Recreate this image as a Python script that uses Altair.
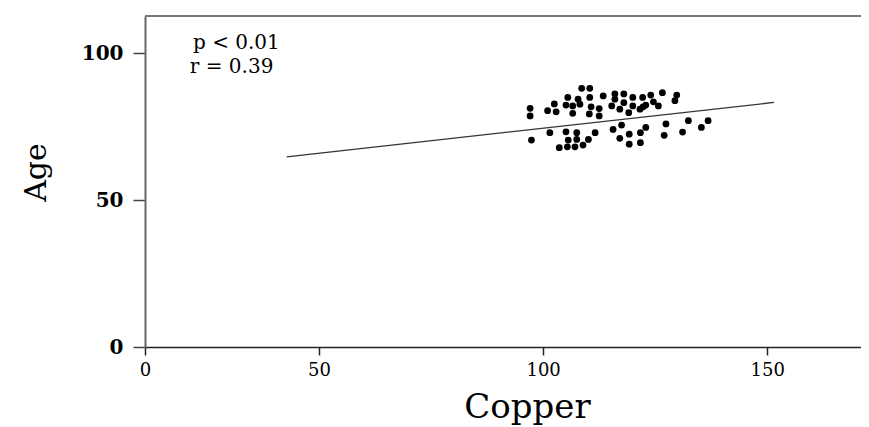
import altair as alt
import pandas as pd

# ---- data ----
copper = [108.6, 110.4, 105.5, 107.8, 110.4, 113.4, 116.0, 118.0, 120.0, 122.2,
          124.0, 126.6, 129.8, 102.5, 105.1, 106.6, 108.2, 110.7, 112.5, 115.3,
          116.0, 118.0, 120.0, 122.3, 122.9, 124.6, 125.7, 129.4, 97.1, 101.0,
          102.9, 106.6, 110.3, 112.5, 117.1, 119.1, 121.6, 97.1, 97.4, 101.5,
          105.1, 107.5, 111.6, 115.6, 117.5, 119.2, 121.7, 122.9, 127.4, 132.4,
          136.8, 135.3, 131.1, 127.0, 117.1, 119.2, 121.7, 105.6, 107.5, 110.1,
          103.6, 105.4, 107.1, 108.9]
age = [88.0, 88.0, 84.9, 84.3, 84.9, 85.4, 86.1, 86.1, 84.9, 84.9,
       85.7, 86.5, 85.7, 82.7, 82.3, 82.0, 82.6, 81.7, 81.1, 82.0,
       84.3, 83.1, 82.0, 81.7, 82.3, 83.4, 82.0, 83.8, 81.2, 80.4,
       80.0, 79.5, 79.3, 78.6, 80.9, 79.7, 80.9, 78.6, 70.4, 72.9,
       73.2, 72.9, 72.9, 74.0, 75.5, 72.4, 72.9, 74.7, 75.9, 77.0,
       77.0, 74.7, 73.1, 72.0, 71.0, 69.0, 69.5, 70.4, 70.6, 70.6,
       67.8, 68.1, 68.1, 68.7]

fit_copper = [42.8, 151.5]
fit_age = [64.7, 83.2]

ann_text = ["p < 0.01", "r = 0.39"]
ann_copper = [21.9, 21.2]
ann_age = [103.3, 95.3]

x_ticks = [11.2, 50, 100, 150]
y_ticks = [0, 50, 100]

X_DOMAIN = [11.2, 170.9]
Y_DOMAIN = [0, 112.6]

W, H = 716, 331

pts = pd.DataFrame({"Copper": copper, "Age": age})
fit = pd.DataFrame({"Copper": fit_copper, "Age": fit_age})
ann = pd.DataFrame({"Copper": ann_copper, "Age": ann_age, "t": ann_text})

xscale = alt.Scale(domain=X_DOMAIN, nice=False, zero=False)
yscale = alt.Scale(domain=Y_DOMAIN, nice=False)

xaxis = alt.Axis(
    values=x_ticks, labelExpr="datum.value < 20 ? '0' : datum.label",
    title="Copper", grid=False, labelFlush=False,
    domainColor="#222", domainWidth=1.5, tickColor="#222", tickWidth=1.5, tickSize=8,
    labelFont="DejaVu Serif", labelFontSize=18, labelColor="black", labelPadding=6,
    titleFont="DejaVu Serif", titleFontSize=34, titleFontWeight="normal", titleColor="black",
    titleX=382, titleY=70, titleBaseline="alphabetic", titleAlign="center",
)
yaxis = alt.Axis(
    values=y_ticks, title="Age", grid=False, labelFlush=False,
    domainColor="#666", domainWidth=2, tickColor="#444", tickWidth=1.5, tickSize=12,
    labelFont="DejaVu Serif", labelFontSize=20, labelFontWeight="bold", labelColor="black",
    labelPadding=10,
    titleFont="DejaVu Serif", titleFontSize=30, titleFontWeight="normal", titleColor="black",
    titleX=-109, titleY=156, titleAngle=270, titleAlign="center", titleBaseline="middle",
)

points = alt.Chart(pts).mark_circle(size=46, color="black", opacity=1).encode(
    x=alt.X("Copper:Q", scale=xscale, axis=xaxis),
    y=alt.Y("Age:Q", scale=yscale, axis=yaxis),
)
line = alt.Chart(fit).mark_line(color="#333", strokeWidth=1.3).encode(
    x=alt.X("Copper:Q", scale=xscale),
    y=alt.Y("Age:Q", scale=yscale),
)
text = alt.Chart(ann).mark_text(
    align="left", baseline="middle", font="DejaVu Serif", fontSize=20, color="black"
).encode(
    x=alt.X("Copper:Q", scale=xscale),
    y=alt.Y("Age:Q", scale=yscale),
    text="t:N",
)
top = alt.Chart(pd.DataFrame({"a": [0]})).mark_rule(color="#777", strokeWidth=2).encode(
    x=alt.value(0), x2=alt.value(W), y=alt.value(0)
)

chart = alt.layer(line, points, text, top).properties(
    width=W, height=H,
    autosize=alt.AutoSizeParams(type="none"),
    padding={"left": 137, "top": 8, "right": 0, "bottom": 78},
    background="white",
).configure_view(stroke=None)

chart.save("out.html", embed_options={"renderer": "svg", "actions": False})
